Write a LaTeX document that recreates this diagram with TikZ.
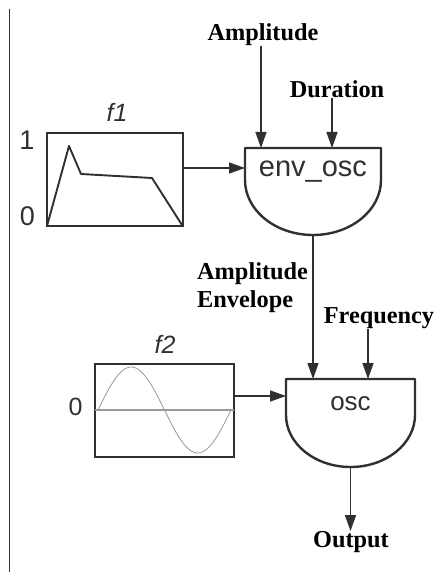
\documentclass[tikz,border=0pt]{standalone}
\usepackage{fontspec}
\setmainfont{Liberation Serif}
\newfontfamily\helv{Liberation Sans}
\usepackage{xcolor}
\usetikzlibrary{arrows.meta}
\definecolor{ink}{HTML}{303030}
\definecolor{wave}{HTML}{9A9A9A}

\begin{document}
\begin{tikzpicture}[x=1pt,y=1pt,
		lbl/.style={font=\fontsize{24.3}{28}\selectfont\bfseries, inner sep=0pt},
		sans/.style={font=\helv\fontsize{#1}{#1}\selectfont, text=ink, inner sep=0pt},
		sig/.style={draw=ink, line width=1.6pt, -{Triangle[length=16pt,width=11pt]}},
		unit/.style={draw=ink, line width=2.4pt, line join=round},
		tbl/.style={draw=ink, line width=2.8pt, minimum width=#1, minimum height=93pt, inner sep=0pt, outer sep=0pt}]
		\useasboundingbox (0,0) rectangle (437,-572);
		
		% Rule on the left side of the page
		\draw[ink, line width=1.4pt] (9.5,-9) -- (9.5,-572);
		
		% Table f1 with the envelope shape
		\node[tbl=136pt] (f1) at (115,-179.5) {};
		\draw[ink, line width=1.9pt, line join=round] (47,-226) -- (69,-146) -- (81,-174) -- (152,-178) -- (182,-225);
		\node[sans=25, font=\helv\itshape\fontsize{25}{25}\selectfont] (f1name) at (117,-112) {f1};
		\node[sans=27] (f1one) at (27,-140) {1};
		\node[sans=27] (f1zero) at (27.5,-216.5) {0};
		
		% Unit env_osc
		\draw[unit] (245,-148) -- (381,-148) -- (381,-180) arc[start angle=0, end angle=-180, x radius=68, y radius=55] -- cycle;
		\node[sans=29] (envosc) at (313,-172) {env\_osc};
		\coordinate (ampin) at (261,-148);
		\coordinate (durin) at (332,-148);
		\coordinate (envin) at (245,-168);
		\coordinate (envout) at (313,-235);
		
		% Inputs of env_osc
		\node[lbl, anchor=south] (amp) at (263,-46) {Amplitude};
		\node[lbl, anchor=south] (dur) at (337,-98) {Duration};
		\draw[sig] (amp.south -| ampin) -- (ampin);
		\draw[sig] (dur.south -| durin) -- (durin);
		\draw[sig] (f1.east |- envin) -- (envin);
		
		% Table f2 with one period of a sine
		\node[tbl=139pt] (f2) at (164.5,-410.5) {};
		\draw[wave, line width=1.2pt] (95,-410) -- (234,-410);
		\draw[wave, line width=0.8pt] plot[domain=0:360, samples=72] ({98+0.3694*\x}, {-410+43*sin(\x)});
		\node[sans=25, font=\helv\itshape\fontsize{25}{25}\selectfont] (f2name) at (165,-344) {f2};
		\node[sans=25] (f2zero) at (75.5,-406.5) {0};
		
		% Unit osc
		\draw[unit] (286,-379) -- (415,-379) -- (415,-415) arc[start angle=0, end angle=-180, x radius=64.5, y radius=52] -- cycle;
		\node[sans=26] (osc) at (350.5,-404) {osc};
		\coordinate (envin2) at (313,-379);
		\coordinate (freqin) at (368,-379);
		\coordinate (oscin) at (286,-396);
		\coordinate (oscout) at (350.5,-467);
		
		% Inputs and output of osc
		\node[lbl, anchor=west, align=left] (ampenv) at (197,-288) {Amplitude\\Envelope};
		\node[lbl, anchor=south] (freq) at (379,-329) {Frequency};
		\node[lbl, anchor=north] (out) at (351,-531) {Output};
		\draw[sig] (envout) -- (envin2);
		\draw[sig] (freq.south -| freqin) -- (freqin);
		\draw[sig] (f2.east |- oscin) -- (oscin);
		\draw[sig] (oscout) -- (oscout |- out.north);
	\end{tikzpicture}
\end{document}
